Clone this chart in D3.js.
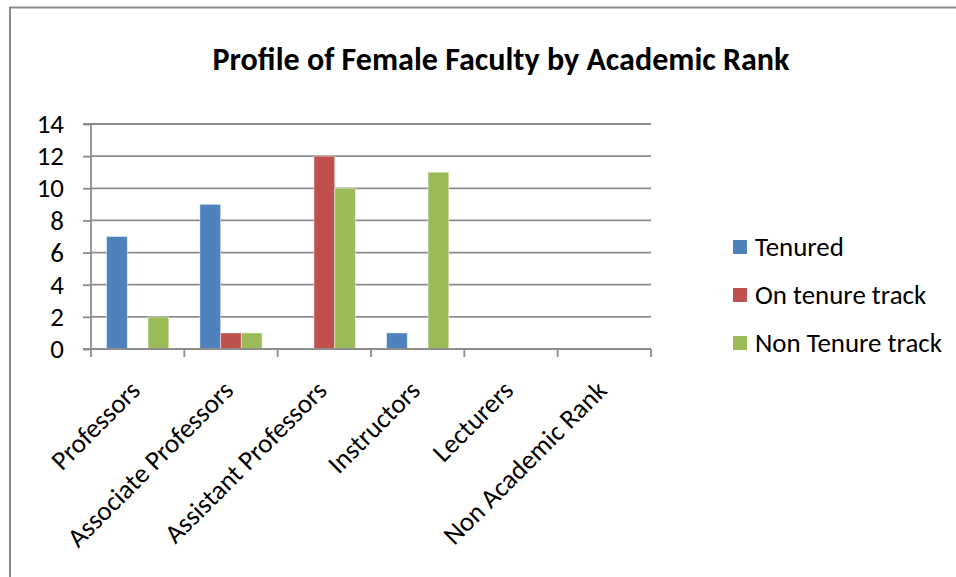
<!DOCTYPE html>
<html>
<head>
<meta charset="utf-8">
<script src="https://cdn.jsdelivr.net/npm/d3@7"></script>
<style>
  html, body { margin: 0; padding: 0; background: #fff; }
  svg { display: block; font-family: Calibri, Carlito, Lato, sans-serif; }
</style>
</head>
<body>
<div id="vis1"></div>
<script>
// chart data
const CATEGORIES = ["Professors", "Associate Professors", "Assistant Professors",
                    "Instructors", "Lecturers", "Non Academic Rank"];
const SERIES = ["Tenured", "On tenure track", "Non Tenure track"];
const TENURED = [7, 9, 0, 1, 0, 0];
const ON_TRACK = [0, 1, 12, 0, 0, 0];
const NON_TRACK = [2, 1, 10, 11, 0, 0];
const Y_TICKS = [0, 2, 4, 6, 8, 10, 12, 14];
const COLORS = ["#4F81BD", "#C0504D", "#9BBB59"];
const TITLE = "Profile of Female Faculty by Academic Rank";

const FRAME_WIDTH = 956;
const FRAME_HEIGHT = 577;
const PLOT = {left: 91, right: 651, top: 124, bottom: 349};

const svg = d3.select("#vis1")
  .append("svg")
    .attr("width", FRAME_WIDTH)
    .attr("height", FRAME_HEIGHT);

// chart border (only top and left show in the frame)
svg.append("path")
  .attr("d", `M10,${FRAME_HEIGHT + 2} V7.5 H${FRAME_WIDTH + 2}`)
  .attr("fill", "none")
  .attr("stroke", "#8a8a8a")
  .attr("stroke-width", 2);

// rows of values per series
const rows = [TENURED, ON_TRACK, NON_TRACK];
const data = CATEGORIES.map((c, i) => ({
  cat: c,
  vals: SERIES.map((s, j) => ({series: s, idx: j, value: rows[j][i]}))
}));

// helper: font size so a text gets a wanted width
function fitSize(text, weight, target) {
  const t = svg.append("text")
    .attr("font-size", 100)
    .attr("font-weight", weight)
    .text(text);
  const w = t.node().getComputedTextLength();
  t.remove();
  return 100 * target / w;
}
const LABEL_SIZE = fitSize("Non Tenure track", "normal", 187);
const TITLE_SIZE = fitSize(TITLE, "bold", 577);

// scales
const x0 = d3.scaleBand()
  .domain(CATEGORIES)
  .range([PLOT.left, PLOT.right])
  .padding(0);

const x1 = d3.scaleBand()
  .domain(SERIES)
  .range([0, x0.bandwidth()])
  .paddingInner(0)
  .paddingOuter(0.75);

const y = d3.scaleLinear()
  .domain([0, 14])
  .range([PLOT.bottom, PLOT.top]);

// gridlines
svg.append("g")
  .selectAll("line")
  .data(Y_TICKS.slice(1))
  .enter()
  .append("line")
    .attr("x1", PLOT.left)
    .attr("x2", PLOT.right)
    .attr("y1", d => y(d))
    .attr("y2", d => y(d))
    .attr("stroke", "#8c8c8c")
    .attr("stroke-width", 1.8);

// bars
const groups = svg.append("g")
  .selectAll("g")
  .data(data)
  .enter()
  .append("g")
    .attr("transform", d => `translate(${x0(d.cat)},0)`);

groups.selectAll("rect")
  .data(d => d.vals.filter(v => v.value > 0))
  .enter()
  .append("rect")
    .attr("x", d => x1(d.series))
    .attr("y", d => y(d.value))
    .attr("width", x1.bandwidth())
    .attr("height", d => y(0) - y(d.value))
    .attr("fill", d => COLORS[d.idx])
    .attr("stroke", "rgba(255,255,255,0.45)")
    .attr("stroke-width", 1);

// y axis
const yAxis = d3.axisLeft(y)
  .tickValues(Y_TICKS)
  .tickSize(8)
  .tickPadding(19)
  .tickFormat(d3.format("d"));

const gy = svg.append("g")
  .attr("transform", `translate(${PLOT.left},0)`)
  .call(yAxis);
gy.select(".domain").attr("stroke", "#8c8c8c").attr("stroke-width", 1.8)
  .attr("d", `M-8,${PLOT.top}H0V${PLOT.bottom}H-8`);
gy.selectAll(".tick line").attr("stroke", "#8c8c8c").attr("stroke-width", 1.8);
gy.selectAll(".tick text")
  .attr("font-size", LABEL_SIZE)
  .attr("font-family", "Calibri, Carlito, Lato, sans-serif")
  .attr("fill", "#000");

// x axis: ticks at band edges
const edges = CATEGORIES.map(c => x0(c)).concat([PLOT.right]);
svg.append("line")
  .attr("x1", PLOT.left).attr("x2", PLOT.right)
  .attr("y1", y(0)).attr("y2", y(0))
  .attr("stroke", "#8c8c8c").attr("stroke-width", 1.8);
svg.append("g")
  .selectAll("line")
  .data(edges)
  .enter()
  .append("line")
    .attr("x1", d => d).attr("x2", d => d)
    .attr("y1", y(0)).attr("y2", y(0) + 8)
    .attr("stroke", "#8c8c8c").attr("stroke-width", 1.8);

// x labels, rotated
svg.append("g")
  .selectAll("text")
  .data(CATEGORIES)
  .enter()
  .append("text")
    .attr("transform", d => `translate(${x0(d) + x0.bandwidth() / 2 + 4},392) rotate(-45)`)
    .attr("text-anchor", "end")
    .attr("font-size", LABEL_SIZE)
    .attr("fill", "#000")
    .text(d => d);

// title
svg.append("text")
  .attr("x", 501)
  .attr("y", 70)
  .attr("text-anchor", "middle")
  .attr("font-size", TITLE_SIZE)
  .attr("font-weight", "bold")
  .attr("fill", "#000")
  .text(TITLE);

// legend
const legend = svg.append("g")
  .selectAll("g")
  .data(SERIES)
  .enter()
  .append("g")
    .attr("transform", (d, i) => `translate(733,${247 + i * 48})`);

legend.append("rect")
  .attr("x", 0).attr("y", -7)
  .attr("width", 14).attr("height", 14)
  .attr("fill", (d, i) => COLORS[i]);

legend.append("text")
  .attr("x", 22)
  .attr("y", 0)
  .attr("dy", "0.35em")
  .attr("font-size", LABEL_SIZE)
  .attr("fill", "#000")
  .text(d => d);
</script>
</body>
</html>
